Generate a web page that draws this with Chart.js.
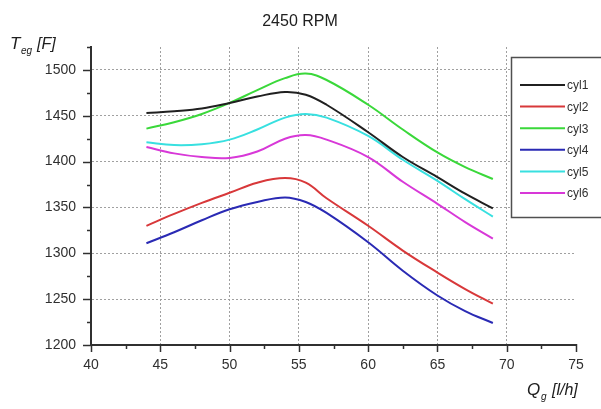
<!DOCTYPE html>
<html>
<head>
<meta charset="utf-8">
<script src="https://cdn.jsdelivr.net/npm/chart.js@4"></script>
<style>
html,body{margin:0;padding:0;background:#fff;}
#wrap{width:601px;height:409px;position:relative;}
</style>
</head>
<body>
<div id="wrap"><canvas id="c" width="601" height="409"></canvas></div>
<script>
// ---- data ----
const titleText = "2450 RPM";
const Q = [44, 46, 48, 50, 52, 54, 55.5, 57, 60, 62.5, 65, 67, 69];
const seriesNames = ["cyl1", "cyl2", "cyl3", "cyl4", "cyl5", "cyl6"];
const cyl1 = [1453, 1455, 1458, 1464, 1471, 1476, 1473, 1462, 1432, 1405, 1383, 1365, 1349];
const cyl2 = [1330, 1343, 1355, 1366, 1377, 1382, 1377, 1360, 1330, 1303, 1279, 1261, 1245];
const cyl3 = [1436, 1443, 1452, 1464, 1478, 1491, 1496, 1489, 1462, 1435, 1410, 1394, 1381];
const cyl4 = [1311, 1323, 1336, 1348, 1356, 1361, 1356, 1344, 1312, 1281, 1254, 1237, 1224];
const cyl5 = [1421, 1418, 1419, 1424, 1435, 1448, 1452, 1448, 1428, 1402, 1379, 1359, 1340];
const cyl6 = [1416, 1409, 1405, 1404, 1411, 1425, 1429, 1424, 1405, 1378, 1354, 1334, 1316];
const seriesColors = ["#202020", "#d8383a", "#3ad83a", "#2a2ab4", "#38e0e0", "#d838d8"];
const xMin = 40, xMax = 75, xMajor = 5, xMinor = 2.5;
const yMin = 1200, yMax = 1525, yMajor = 50, yMinor = 25;

const FONT = 'Arial, "Liberation Sans", sans-serif';
const allSeries = [cyl1, cyl2, cyl3, cyl4, cyl5, cyl6];
const datasets = allSeries.map((s, i) => ({
  label: seriesNames[i],
  data: Q.map((q, j) => ({ x: q, y: s[j] })),
  borderColor: seriesColors[i],
  backgroundColor: seriesColors[i],
  borderWidth: 2,
  pointRadius: 0,
  tension: 0.4,
  fill: false
}));

function isMajor(v, step) { return Math.abs(v / step - Math.round(v / step)) < 1e-6; }

const decorPlugin = {
  id: 'decor',
  afterDraw(chart) {
    const ctx = chart.ctx;
    const xs = chart.scales.x, ys = chart.scales.y;
    const area = chart.chartArea;
    ctx.save();
    // tick marks
    ctx.strokeStyle = '#303030';
    ctx.lineWidth = 1.5;
    xs.ticks.forEach(t => {
      const px = Math.round(xs.getPixelForValue(t.value)) + 0.5;
      const len = isMajor(t.value, xMajor) ? 7 : 4;
      ctx.beginPath();
      ctx.moveTo(px, area.bottom - 1);
      ctx.lineTo(px, area.bottom + len);
      ctx.stroke();
    });
    ys.ticks.forEach(t => {
      const py = Math.round(ys.getPixelForValue(t.value)) + 0.5;
      const len = isMajor(t.value, yMajor) ? 8 : 4;
      ctx.beginPath();
      ctx.moveTo(area.left + 1, py);
      ctx.lineTo(area.left - len, py);
      ctx.stroke();
    });
    // title
    ctx.fillStyle = '#202020';
    ctx.font = '16px ' + FONT;
    ctx.textAlign = 'center';
    ctx.textBaseline = 'alphabetic';
    ctx.fillText(titleText, 300, 26);
    // y axis title: T_eg [F]
    ctx.textAlign = 'left';
    ctx.font = 'italic 17px ' + FONT;
    ctx.fillText('T', 10, 49);
    ctx.font = 'italic 10px ' + FONT;
    ctx.fillText('eg', 21, 54);
    ctx.font = 'italic 16px ' + FONT;
    ctx.fillText('[F]', 37, 49);
    // x axis title: Q_g [l/h]
    ctx.font = 'italic 17px ' + FONT;
    ctx.fillText('Q', 527, 395);
    ctx.font = 'italic 10px ' + FONT;
    ctx.fillText('g', 541, 400);
    ctx.font = 'italic 16px ' + FONT;
    ctx.fillText('[l/h]', 552, 395);
    // legend box
    ctx.fillStyle = '#ffffff';
    ctx.fillRect(511, 57, 95, 161);
    ctx.strokeStyle = '#505050';
    ctx.lineWidth = 1.5;
    ctx.strokeRect(511.5, 57.5, 95, 160);
    chart.data.datasets.forEach((ds, i) => {
      const y = 85 + i * 21.6;
      ctx.strokeStyle = ds.borderColor;
      ctx.lineWidth = 2;
      ctx.beginPath();
      ctx.moveTo(520, y);
      ctx.lineTo(565, y);
      ctx.stroke();
      ctx.fillStyle = '#303030';
      ctx.font = '12px ' + FONT;
      ctx.textBaseline = 'middle';
      ctx.fillText(ds.label, 567, y + 1);
    });
    ctx.restore();
  }
};

new Chart(document.getElementById('c'), {
  type: 'line',
  data: { datasets },
  plugins: [decorPlugin],
  options: {
    responsive: false,
    animation: false,
    devicePixelRatio: 1,
    layout: { padding: { left: 0, top: 47, right: 25, bottom: 0 } },
    plugins: { legend: { display: false }, title: { display: false }, tooltip: { enabled: false } },
    scales: {
      x: {
        type: 'linear', min: xMin, max: xMax,
        afterFit(s) { s.height = 64; },
        ticks: {
          stepSize: xMinor, autoSkip: false, maxRotation: 0,
          color: '#303030', font: { family: FONT, size: 14 }, padding: 12,
          callback: v => isMajor(v, xMajor) ? String(v) : ''
        },
        grid: {
          drawTicks: false,
          color: c => (c.tick && isMajor(c.tick.value, xMajor) && c.tick.value !== xMin && c.tick.value !== xMax) ? '#a0a0a0' : 'rgba(0,0,0,0)',
          lineWidth: 1
        },
        border: { display: true, color: '#303030', width: 2, dash: [2, 2] }
      },
      y: {
        type: 'linear', min: yMin, max: yMax,
        afterFit(s) { s.width = 91; },
        ticks: {
          stepSize: yMinor, autoSkip: false,
          color: '#303030', font: { family: FONT, size: 14 }, padding: 15,
          callback: v => (isMajor(v, yMajor) && v <= 1500) ? String(v) : ''
        },
        grid: {
          drawTicks: false,
          color: c => (c.tick && isMajor(c.tick.value, yMajor) && c.tick.value !== yMin && c.tick.value <= 1500) ? '#a0a0a0' : 'rgba(0,0,0,0)',
          lineWidth: 1
        },
        border: { display: true, color: '#303030', width: 2, dash: [2, 2] }
      }
    }
  }
});
</script>
</body>
</html>
